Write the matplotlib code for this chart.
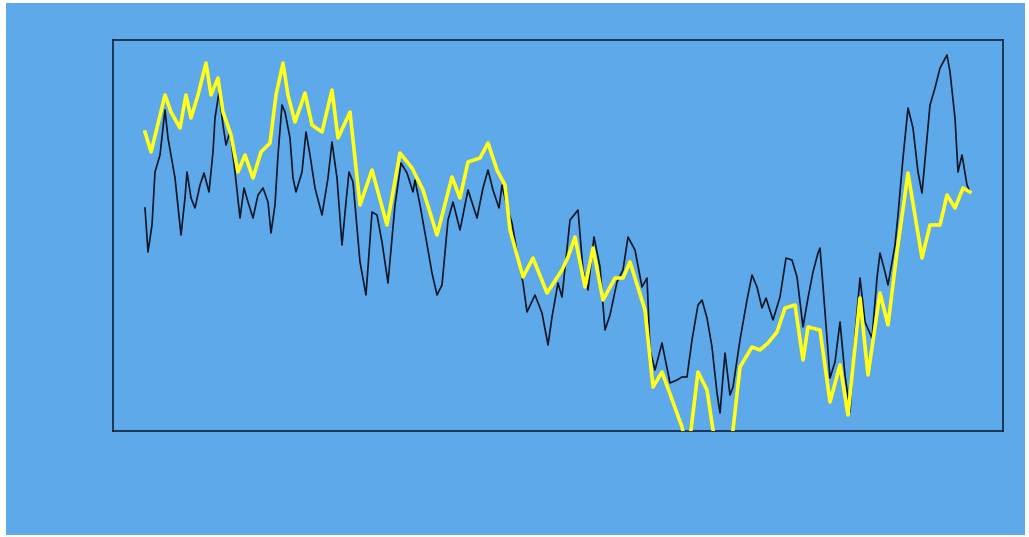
import matplotlib
matplotlib.use("Agg")
import matplotlib.pyplot as plt
from matplotlib.patches import Rectangle

# time index and values (arbitrary units)
yellow_t = [32, 38, 43, 52, 58, 67, 73, 78, 85, 93, 98, 105, 110, 118, 125, 132, 140, 148, 157, 163,
            170, 175, 182, 192, 199, 209, 219, 225, 237, 247, 259, 274, 287, 299, 310, 324, 339, 347, 355, 367,
            375, 384, 392, 397, 410, 420, 434, 449, 455, 462, 472, 480, 490, 502, 510, 517, 532, 540, 549, 569,
            573, 578, 585, 594, 600, 605, 610, 615, 620, 627, 639, 647, 655, 664, 672, 682, 690, 695, 707, 717,
            727, 735, 747, 755, 767, 775, 784, 795, 809, 817, 827, 834, 842, 850, 857]
yellow_v = [299, 279, 299, 336, 319, 303, 336, 313, 336, 368, 336, 353, 319, 296, 259, 276, 253, 279, 288, 336,
            368, 336, 309, 338, 306, 299, 341, 293, 319, 226, 261, 206, 278, 263, 241, 196, 254, 233, 269, 273,
            288, 261, 246, 201, 154, 173, 138, 161, 174, 194, 144, 183, 131, 153, 153, 169, 121, 44, 59, 4,
            -14, 1, 59, 41, 1, -19, -24, -19, 1, 64, 84, 81, 88, 99, 123, 126, 71, 104, 101, 29,
            66, 16, 133, 56, 138, 106, 179, 258, 173, 206, 206, 236, 223, 243, 239]

black_t = [32, 35, 39, 42, 47, 52, 55, 58, 62, 68, 72, 74, 78, 82, 87, 91, 96, 100, 102, 106,
           110, 113, 117, 122, 127, 131, 135, 140, 145, 150, 155, 158, 162, 165, 169, 172, 177, 180, 183, 189,
           193, 197, 202, 209, 215, 219, 224, 229, 233, 236, 240, 247, 253, 259, 264, 269, 275, 282, 288, 294,
           300, 302, 307, 312, 319, 324, 329, 335, 340, 347, 355, 364, 370, 375, 380, 386, 389, 394, 399, 404,
           410, 414, 422, 429, 435, 439, 445, 449, 457, 465, 470, 475, 481, 487, 492, 497, 504, 510, 515, 522,
           529, 534, 537, 542, 549, 557, 564, 569, 574, 579, 585, 589, 594, 599, 604, 607, 612, 617, 620, 627,
           634, 639, 644, 649, 653, 660, 667, 673, 679, 684, 690, 695, 700, 705, 707, 712, 717, 722, 727, 732,
           737, 742, 747, 752, 759, 764, 767, 772, 775, 782, 785, 790, 795, 800, 805, 809, 814, 817, 822, 827,
           834, 837, 842, 845, 849, 854, 857]
black_v = [223, 179, 206, 259, 276, 321, 293, 276, 253, 196, 233, 259, 233, 223, 246, 258, 239, 279, 313, 339,
           306, 286, 299, 259, 213, 243, 229, 213, 236, 243, 229, 198, 226, 276, 326, 319, 293, 253, 239, 259,
           299, 276, 243, 216, 253, 289, 253, 186, 229, 259, 249, 169, 136, 219, 216, 189, 148, 226, 268, 258,
           239, 251, 226, 198, 158, 136, 146, 211, 229, 201, 241, 213, 243, 261, 241, 223, 246, 224, 208, 179,
           148, 119, 136, 118, 86, 114, 148, 134, 211, 221, 161, 141, 194, 164, 101, 116, 149, 161, 194, 181,
           144, 153, 81, 61, 88, 48, 51, 54, 54, 91, 126, 131, 113, 84, 38, 18, 78, 36, 44, 91,
           131, 156, 144, 123, 133, 111, 134, 173, 171, 154, 104, 133, 159, 178, 183, 119, 53, 69, 109, 56,
           19, 96, 153, 109, 93, 153, 178, 159, 146, 186, 216, 273, 323, 303, 259, 238, 293, 326, 343, 363,
           376, 359, 313, 259, 276, 246, 239]

BLUE = "#5DA9E9"

fig = plt.figure(figsize=(10.29, 5.37), dpi=100, facecolor="white")
fig.patches.append(Rectangle((6 / 1029, 2 / 537), 1019 / 1029, 532 / 537,
                             transform=fig.transFigure, facecolor=BLUE,
                             edgecolor="none", zorder=-10))

ax = fig.add_axes([113 / 1029, 106 / 537, 890 / 1029, 391 / 537])
ax.set_zorder(5)
ax.set_facecolor(BLUE)
ax.plot(black_t, black_v, color="#0b1526", linewidth=1.2, zorder=2)
ax.plot(yellow_t, yellow_v, color="#FFFF1A", linewidth=2.6, zorder=3,
        solid_joinstyle="round")
ax.set_xlim(0, 890)
ax.set_ylim(0, 391)
ax.set_xticks([])
ax.set_yticks([])
for s in ax.spines.values():
    s.set_color("#14213a")
    s.set_linewidth(1.2)

fig.savefig("out.png", dpi=100, facecolor=fig.get_facecolor())
